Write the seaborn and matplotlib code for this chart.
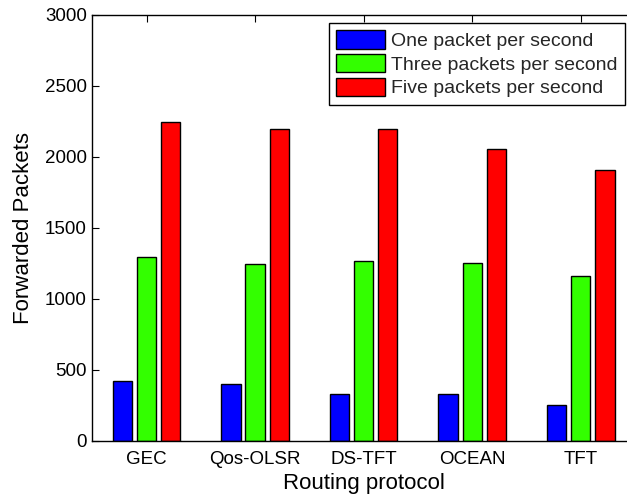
import matplotlib
matplotlib.use("Agg")
import matplotlib.pyplot as plt
import seaborn as sns
import pandas as pd

protocols = ["GEC", "Qos-OLSR", "DS-TFT", "OCEAN", "TFT"]
series_names = ["One packet per second", "Three packets per second", "Five packets per second"]
one_pps = [420, 400, 333, 333, 256]
three_pps = [1298, 1245, 1265, 1255, 1158]
five_pps = [2247, 2195, 2195, 2055, 1905]
colors = ["#0000ff", "#33ff00", "#ff0000"]
yticks = [0, 500, 1000, 1500, 2000, 2500, 3000]

rows = []
for name, vals in zip(series_names, [one_pps, three_pps, five_pps]):
    for p, v in zip(protocols, vals):
        rows.append({"Routing protocol": p, "Forwarded Packets": v, "Rate": name})
df = pd.DataFrame(rows)

sns.set_theme(style="white")
plt.rcParams["font.family"] = ["Liberation Sans", "DejaVu Sans"]

fig = plt.figure(figsize=(6.27, 4.98), dpi=100)
ax = fig.add_axes([0.1472, 0.1145, 0.8656, 0.856])

sns.barplot(data=df, x="Routing protocol", y="Forwarded Packets", hue="Rate",
            hue_order=series_names, order=protocols, palette=colors,
            width=0.667, gap=0.2, edgecolor="black", linewidth=1.0,
            saturation=1, errorbar=None, ax=ax)

ax.set_xlim(-0.5, 4.5)
ax.set_ylim(0, 3000)
ax.set_yticks(yticks)
ax.set_yticklabels([str(t) for t in yticks])

for s in ax.spines.values():
    s.set_color("black")
    s.set_linewidth(1.0)

ax.tick_params(axis="both", direction="in", length=5, width=0.8, color="black",
               labelsize=13.5, labelcolor="black")
ax.tick_params(axis="x", top=True, bottom=True, pad=7)
ax.tick_params(axis="y", left=True, right=True, pad=4)

ax.set_xlabel("Routing protocol", fontsize=16, color="black", labelpad=4)
ax.set_ylabel("Forwarded Packets", fontsize=16, color="black", labelpad=8)

leg = ax.legend(loc="upper right", bbox_to_anchor=(0.9816, 0.9812), fontsize=14,
                frameon=True, fancybox=False, edgecolor="black", framealpha=1,
                handlelength=2.5, handleheight=1.05, handletextpad=0.3,
                borderpad=0.4, labelspacing=0.2, borderaxespad=0)
leg.get_frame().set_linewidth(1.0)

fig.savefig("out.png", dpi=100)
